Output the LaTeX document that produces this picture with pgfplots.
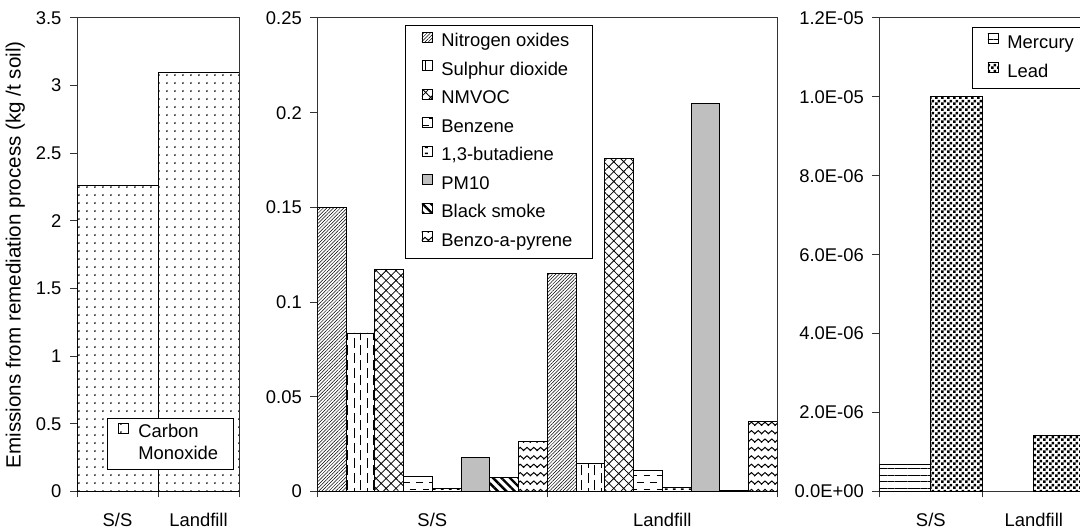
\documentclass[border=0pt]{standalone}
\usepackage{fontspec}
\setmainfont{Liberation Sans}
\usepackage{pgfplots}
\pgfplotsset{compat=1.18}
\usetikzlibrary{patterns.meta}

\tikzdeclarepattern{name=codots, type=uncolored,
  bounding box={(0pt,0pt) and (4.2pt,4.2pt)}, tile size={(4.2pt,4.2pt)},
  code={\fill (2.1pt,2.1pt) circle (0.5pt);}}
\tikzdeclarepattern{name=vdash, type=uncolored,
  bounding box={(0pt,-0.5pt) and (6.5pt,9pt)}, tile size={(6.5pt,7.5pt)},
  code={\draw[line width=0.6pt] (1.6pt,0pt) -- (1.6pt,5pt);
        \draw[line width=0.6pt] (4.9pt,3.75pt) -- (4.9pt,8.75pt);}}
\tikzdeclarepattern{name=hdash, type=uncolored,
  bounding box={(-0.5pt,0pt) and (7pt,7pt)}, tile size={(6.5pt,7pt)},
  code={\draw[line width=0.6pt] (0pt,1.75pt) -- (3.3pt,1.75pt);
        \draw[line width=0.6pt] (3.25pt,5.25pt) -- (6.55pt,5.25pt);}}
\tikzdeclarepattern{name=smalldash, type=uncolored,
  bounding box={(0pt,0pt) and (4pt,3pt)}, tile size={(4pt,3pt)},
  code={\fill (0.5pt,1pt) rectangle (2pt,1.8pt);}}
\tikzdeclarepattern{name=waves, type=uncolored,
  bounding box={(-0.4pt,0pt) and (3.8pt,4.2pt)}, tile size={(3.4pt,4.2pt)},
  code={\draw[line width=0.5pt] (-0.34pt,0.72pt) -- (0pt,1pt) -- (1.7pt,2.5pt) -- (3.4pt,1pt) -- (3.74pt,1.3pt);}}
\tikzdeclarepattern{name=leaddots, type=uncolored,
  bounding box={(0pt,0pt) and (2.8pt,2.8pt)}, tile size={(2.8pt,2.8pt)},
  code={\fill (0pt,0pt) rectangle (1.35pt,1.35pt);
        \fill (1.4pt,1.4pt) rectangle (2.75pt,2.75pt);}}

\pgfplotsset{
 panel/.style={
  scale only axis, anchor=south west, height=236.75pt,
  xmin=0, xmax=2, ymin=0,
  axis line style={black!80, line width=0.5pt},
  tick style={black!80, line width=0.5pt},
  tick align=outside, tick pos=left,
  major tick length=3.5pt, minor tick length=3pt,
  xtick={0.5,1.5}, xticklabels={S/S,Landfill},
  major x tick style={draw=none},
  minor xtick={0,1,2},
  xticklabel shift=4.3pt,
  yticklabel shift=1pt,
  scaled y ticks=false,
  legend cell align=left,
  legend style={draw=black, line width=0.5pt, fill=white, inner xsep=8pt, inner ysep=3pt,
     nodes={inner xsep=2pt, inner ysep=1pt, text height=6.7pt, text depth=2pt},
     /tikz/every odd column/.append style={column sep=2.5pt}},
 },
 bars/.style={ybar, bar width=#1, bar shift=0pt, draw=black, line width=0.45pt,
   legend image code/.code={\draw[##1, line width=0.45pt] (0pt,0pt) rectangle (5pt,5pt);}},
}

\begin{document}
\fontsize{9.2}{11}\selectfont
\begin{tikzpicture}
\useasboundingbox (0,0) rectangle (540pt,264pt);
\clip (0,0) rectangle (540pt,264pt);

% Panel 1: Carbon monoxide
\begin{axis}[panel, at={(38.5pt,18.25pt)}, width=81pt,
  ymax=3.5, ytick={0,0.5,1,1.5,2,2.5,3,3.5},
  yticklabels={0,0.5,1,1.5,2,2.5,3,3.5},
  ylabel={Emissions from remediation process (kg /t soil)},
  ylabel style={font=\fontsize{10.3}{12.4}\selectfont},
  ylabel shift=-0.8pt,
  legend style={at={(axis description cs:0.185,0.045)}, anchor=south west,
    inner xsep=5.5pt, inner ysep=2pt, row sep=0.3pt}]
\addplot[bars=1, pattern=codots, pattern color=black] coordinates {(0.5,2.26) (1.5,3.10)};
\addlegendentry{Carbon}
\addlegendimage{empty legend}
\addlegendentry{Monoxide}
\end{axis}

% Panel 2: other pollutants
\begin{axis}[panel, at={(158.65pt,18.25pt)}, width=230pt,
  ymax=0.25, ytick={0,0.05,0.1,0.15,0.2,0.25},
  yticklabels={0,0.05,0.1,0.15,0.2,0.25},
  legend style={at={(axis description cs:0.1907,0.985)}, anchor=north west,
    inner xsep=8pt, inner ysep=3pt, row sep=3.55pt}]
\addplot[bars=0.125, pattern={Lines[angle=45,distance=1.2pt,line width=0.25pt]}, pattern color=black]
  coordinates {(0.0625,0.1500) (1.0625,0.1152)};
\addlegendentry{Nitrogen oxides}
\addplot[bars=0.125, pattern=vdash, pattern color=black]
  coordinates {(0.1875,0.0837) (1.1875,0.0146)};
\addlegendentry{Sulphur dioxide}
\addplot[bars=0.125, pattern={Hatch[angle=45,distance=3.5pt,line width=0.4pt]}, pattern color=black]
  coordinates {(0.3125,0.1174) (1.3125,0.1758)};
\addlegendentry{NMVOC}
\addplot[bars=0.125, pattern=hdash, pattern color=black]
  coordinates {(0.4375,0.0080) (1.4375,0.0110)};
\addlegendentry{Benzene}
\addplot[bars=0.125, pattern=smalldash, pattern color=black]
  coordinates {(0.5625,0.0018) (1.5625,0.0022)};
\addlegendentry{1,3-butadiene}
\addplot[bars=0.125, fill=black!25]
  coordinates {(0.6875,0.0178) (1.6875,0.2051)};
\addlegendentry{PM10}
\addplot[bars=0.125, pattern={Lines[angle=-45,distance=3pt,line width=1.2pt]}, pattern color=black]
  coordinates {(0.8125,0.0074) (1.8125,0.0006)};
\addlegendentry{Black smoke}
\addplot[bars=0.125, pattern=waves, pattern color=black]
  coordinates {(0.9375,0.0262) (1.9375,0.0370)};
\addlegendentry{Benzo-a-pyrene}
\end{axis}

% Panel 3: heavy metals
\begin{axis}[panel, at={(439.65pt,18.25pt)}, width=103pt,
  ymax=1.2e-5, ytick={0,2e-6,4e-6,6e-6,8e-6,1e-5,1.2e-5},
  yticklabels={0.0E+00,2.0E-06,4.0E-06,6.0E-06,8.0E-06,1.0E-05,1.2E-05},
  legend style={at={(axis description cs:0.45,0.981)}, anchor=north west,
    inner xsep=7.5pt, inner ysep=2.7pt, row sep=3.8pt}]
\addplot[bars=0.5, pattern={Lines[angle=0,distance=3.3pt,line width=0.45pt]}, pattern color=black]
  coordinates {(0.25,6.8e-7)};
\addlegendentry{Mercury}
\addplot[bars=0.5, pattern=leaddots, pattern color=black]
  coordinates {(0.75,1.0e-5) (1.75,1.43e-6)};
\addlegendentry{Lead}
\end{axis}
\end{tikzpicture}
\end{document}
